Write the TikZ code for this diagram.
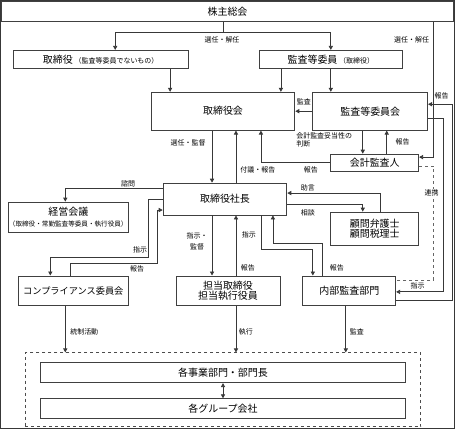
\documentclass[tikz,border=0pt]{standalone}
\usepackage{fontspec}
\setmainfont{Noto Sans CJK JP}
\usetikzlibrary{arrows.meta,calc}
\begin{document}
\begin{tikzpicture}[x=1pt,y=-1pt,
  line width=0.8pt,
  every path/.style={draw=black!78},
  box/.style={draw=black!75,fill=white,inner sep=0pt,align=center,font=\fontsize{10}{12.5}\selectfont},
  lbl/.style={inner sep=0pt,font=\fontsize{7}{8.5}\selectfont,align=left},
  arr/.style={-{Triangle[length=4pt,width=4.2pt]}},
  arrb/.style={{Triangle[length=4pt,width=4.2pt]}-{Triangle[length=4pt,width=4.2pt]}}]
\useasboundingbox (0,0) rectangle (455,429);
% x / y helper coordinates
\foreach \v in {50,65,70,115,148,157,170,212,223,236,261,273,281,313,323,346,363,381,387,434,444,453}
  {\coordinate (x\v) at (\v,0);}
\foreach \v in {32,104,118,157,162,166,188,193,199,204,210,243,249,257,263,280,292,301}
  {\coordinate (y\v) at (0,\v);}
% outer dashed frame
\node[draw=black!70,dashed,line width=0.7pt,minimum width=396pt,minimum height=74pt,inner sep=0pt] (outer) at (223,390) {};
% boxes
\node[box,minimum width=453pt,minimum height=20pt] (sh) at (227.5,11) {株主総会};
\node[box,minimum width=175pt,minimum height=18pt] (tr) at (100.5,59) {取締役\,{\fontsize{7}{8}\selectfont（監査等委員でないもの）}};
\node[box,minimum width=144pt,minimum height=18pt] (kt) at (331,59) {監査等委員\,{\fontsize{7}{8}\selectfont（取締役）}};
\node[box,minimum width=144pt,minimum height=38pt] (trk) at (223,111) {取締役会};
\node[box,minimum width=115pt,minimum height=38pt] (kik) at (370.5,111) {監査等委員会};
\node[box,minimum width=88pt,minimum height=17pt] (kk) at (375,162.5) {会計監査人};
\node[box,minimum width=124pt,minimum height=32pt] (ceo) at (225,199) {取締役社長};
\node[box,minimum width=120pt,minimum height=30pt] (kei) at (68,217) {経営会議\\[-1pt]{\fontsize{6.6}{8}\selectfont（取締役・常勤監査等委員・執行役員）}};
\node[box,minimum width=88pt,minimum height=33pt] (kom) at (375,228.5) {顧問弁護士\\[-2pt]顧問税理士};
\node[box,minimum width=110pt,minimum height=30pt,font=\fontsize{9.2}{11}\selectfont] (comp) at (73,291) {コンプライアンス委員会};
\node[box,minimum width=104pt,minimum height=30pt] (tan) at (228,291) {担当取締役\\[-2pt]担当執行役員};
\node[box,minimum width=93pt,minimum height=30pt] (nai) at (349.5,291) {内部監査部門};
\node[box,minimum width=366pt,minimum height=20pt] (jig) at (223,373) {各事業部門・部門長};
\node[box,minimum width=366pt,minimum height=20pt] (grp) at (223,409) {各グループ会社};
% connectors
\draw[arr] (sh.south -| x223) -- (x223 |- y32) -| (tr.north -| x115);
\draw[arr] (x223 |- y32) -| (kt.north);
\node[lbl] at (222,40) {選任・解任};
\draw[arr] (sh.south -| x434) |- (kk.east |- y157);
\node[lbl] at (412,40) {選任・解任};
\draw[arr] (tr.south -| x170) -- (trk.north -| x170);
\draw[arr] (kt.south -| x281) -- (trk.north -| x281);
\draw[arr] (kt.south) -- (kik.north -| kt.south);
\draw[arr] (kik.west) -- (trk.east);
\node[lbl] at (304,102) {監査};
\draw[arr] (nai.east |- y301) -| (x453 |- y104) -- (kik.east |- y104);
\node[lbl] at (442,96) {報告};
\draw[arr] (kik.east |- y118) -| (x444 |- y292) -- (nai.east |- y292);
\node[lbl] at (418,286) {指示};
\draw[arr] (kik.south -| x363) -- (kk.north -| x363);
\node[lbl,anchor=north west,font=\fontsize{7}{8}\selectfont] at (296,132) {会計監査妥当性の\\判断};
\draw[arr] (kk.north -| x387) -- (kik.south -| x387);
\node[lbl] at (403,142) {報告};
\draw[arr] (kk.west |- y162) -| (trk.south -| x261);
\node[lbl] at (311,170) {報告};
\draw[dashed,line width=0.7pt,draw=black!60] (kk.east |- y166) -| (x434 |- y280) -- (nai.east |- y280);
\node[lbl,fill=white,inner sep=1pt] at (432,193) {連携};
\draw[arr] (trk.south -| x212) -- (ceo.north -| x212);
\node[lbl] at (188,143) {選任・監督};
\draw[arr] (ceo.north -| x236) -- (trk.south -| x236);
\node[lbl] at (258,170) {付議・報告};
\draw[arr] (ceo.west |- y188) -| (kei.north -| x65);
\node[lbl] at (128,184) {諮問};
\draw[arr] (ceo.west |- y199) -| (x148 |- y257) -| (comp.north -| x50);
\node[lbl] at (140,250) {指示};
\draw[arr] (comp.north -| x70) |- (x157 |- y263) |- (ceo.west |- y210);
\node[lbl] at (137,269) {報告};
\draw[arr] (ceo.south -| x212) -- (tan.north -| x212);
\node[lbl,align=center] at (197,241.5) {指示・\\[2pt]監督};
\draw[arr] (tan.north -| x236) -- (ceo.south -| x236);
\node[lbl] at (248,268) {報告};
\draw[arr] (ceo.south -| x261) |- (x313 |- y249) -- (nai.north -| x313);
\node[lbl] at (249,235) {指示};
\draw[arr] (nai.north -| x323) |- (x273 |- y243) -- (ceo.south -| x273);
\node[lbl] at (337,268) {報告};
\draw[arr] (kom.north -| x381) |- (ceo.east |- y193);
\node[lbl] at (308,188) {助言};
\draw[arr] (ceo.east |- y204) -| (kom.north -| x363);
\node[lbl] at (308,213) {相談};
\draw[arr] (comp.south -| x65) -- (outer.north -| x65);
\node[lbl] at (84,332) {統制活動};
\draw[arr] (tan.south -| x236) -- (outer.north -| x236);
\node[lbl] at (246,332) {執行};
\draw[arr] (nai.south -| x346) -- (outer.north -| x346);
\node[lbl] at (357,332) {監査};
\draw[arrb] (jig.south -| x223) -- (grp.north -| x223);
\end{tikzpicture}
\end{document}
